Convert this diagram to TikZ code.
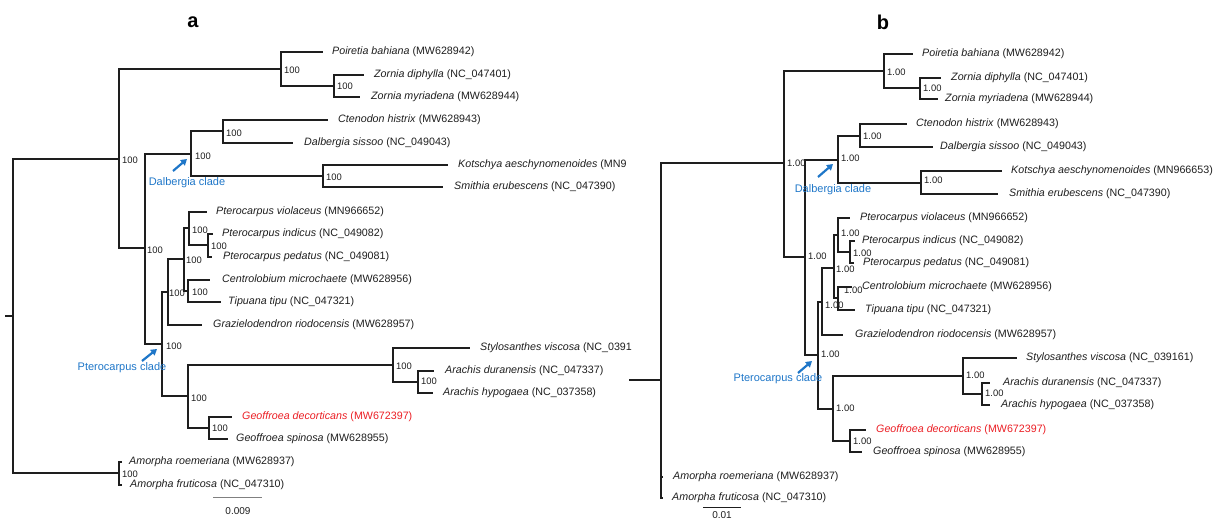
\documentclass[tikz,border=0pt]{standalone}
\usepackage{fontspec}
\setmainfont{Liberation Sans}
\usetikzlibrary{arrows.meta}
\definecolor{ink}{RGB}{30,30,30}
\definecolor{cladeblue}{RGB}{30,118,200}
\definecolor{redt}{RGB}{235,30,36}
\newcommand\tleaf[5]{\coordinate (#1) at (#2,#3); \node[tx] (#1t) at (#4,#3) {#5};}
\newcommand\ed[2]{\draw[br] (#1) |- (#2);}
\newcommand\bsl[4]{\node[bs] (#1l) at (#2,#3) {#4};}
\begin{document}
\begin{tikzpicture}[x=1pt,y=-1pt,
  br/.style={draw=ink,line width=1.3pt},
  tx/.style={anchor=west,inner sep=0pt,text=ink,font=\fontsize{10.7}{12}\selectfont},
  bs/.style={anchor=west,inner sep=0pt,text=ink,font=\fontsize{9.4}{10}\selectfont},
  cl/.style={draw=cladeblue,line width=2.2pt,-{Triangle[length=6pt,width=7pt]}},
  ct/.style={inner sep=0pt,text=cladeblue,font=\fontsize{11}{12}\selectfont},
  panel/.style={inner sep=0pt,text=black,font=\bfseries\fontsize{20}{22}\selectfont}]
\useasboundingbox (0,0) rectangle (1215,521);
% ---------------- panel a ----------------
\node[panel] (la) at (193,22) {a};
\coordinate (ra0) at (5,316); \coordinate (rA) at (13,316);
\coordinate (aA1) at (119,159);
\coordinate (aB1) at (281,69);
\coordinate (aB2) at (334,86);
\coordinate (aA2) at (145,248);
\coordinate (aD1) at (191,154);
\coordinate (aD2) at (223,131);
\coordinate (aD3) at (323,176);
\coordinate (aP1) at (162,344);
\coordinate (aP2) at (168,292);
\coordinate (aP3) at (184,259);
\coordinate (aP4) at (189,228);
\coordinate (aP5) at (208,245);
\coordinate (aP6) at (188,291);
\coordinate (aP7) at (188,396);
\coordinate (aP8) at (393,365);
\coordinate (aP9) at (418,382);
\coordinate (aP10) at (209,428);
\coordinate (aAm) at (119,473);
\tleaf{aPoi}{323}{52}{332}{\textit{Poiretia bahiana} (MW628942)}
\tleaf{aZd}{364}{75}{374}{\textit{Zornia diphylla} (NC\_047401)}
\tleaf{aZm}{360}{97}{371}{\textit{Zornia myriadena} (MW628944)}
\tleaf{aCt}{328}{120}{338}{\textit{Ctenodon histrix} (MW628943)}
\tleaf{aDs}{293}{143}{304}{\textit{Dalbergia sissoo} (NC\_049043)}
\tleaf{aKo}{448}{165}{458}{\textit{Kotschya aeschynomenoides} (MN9}
\tleaf{aSm}{443}{187}{454}{\textit{Smithia erubescens} (NC\_047390)}
\tleaf{aPv}{207}{212}{216}{\textit{Pterocarpus violaceus} (MN966652)}
\tleaf{aPi}{213}{234}{222}{\textit{Pterocarpus indicus} (NC\_049082)}
\tleaf{aPp}{212}{257}{223}{\textit{Pterocarpus pedatus} (NC\_049081)}
\tleaf{aCm}{210}{280}{222}{\textit{Centrolobium microchaete} (MW628956)}
\tleaf{aTt}{221}{302}{228}{\textit{Tipuana tipu} (NC\_047321)}
\tleaf{aGr}{202}{325}{213}{\textit{Grazielodendron riodocensis} (MW628957)}
\tleaf{aSv}{470}{348}{480}{\textit{Stylosanthes viscosa} (NC\_0391}
\tleaf{aAd}{434}{371}{445}{\textit{Arachis duranensis} (NC\_047337)}
\tleaf{aAh}{433}{393}{443}{\textit{Arachis hypogaea} (NC\_037358)}
\tleaf{aGd}{232}{417}{242}{\color{redt}\textit{Geoffroea decorticans} (MW672397)}
\tleaf{aGs}{228}{439}{236}{\textit{Geoffroea spinosa} (MW628955)}
\tleaf{aAr}{122}{462}{129}{\textit{Amorpha roemeriana} (MW628937)}
\tleaf{aAf}{122}{485}{130}{\textit{Amorpha fruticosa} (NC\_047310)}
\draw[br] (ra0) -- (rA);
\ed{rA}{aA1} \ed{rA}{aAm}
\ed{aA1}{aB1} \ed{aA1}{aA2}
\ed{aB1}{aPoi} \ed{aB1}{aB2}
\ed{aB2}{aZd} \ed{aB2}{aZm}
\ed{aA2}{aD1} \ed{aA2}{aP1}
\ed{aD1}{aD2} \ed{aD1}{aD3}
\ed{aD2}{aCt} \ed{aD2}{aDs}
\ed{aD3}{aKo} \ed{aD3}{aSm}
\ed{aP1}{aP2} \ed{aP1}{aP7}
\ed{aP2}{aP3} \ed{aP2}{aGr}
\ed{aP3}{aP4} \ed{aP3}{aP6}
\ed{aP4}{aPv} \ed{aP4}{aP5}
\ed{aP5}{aPi} \ed{aP5}{aPp}
\ed{aP6}{aCm} \ed{aP6}{aTt}
\ed{aP7}{aP8} \ed{aP7}{aP10}
\ed{aP8}{aSv} \ed{aP8}{aP9}
\ed{aP9}{aAd} \ed{aP9}{aAh}
\ed{aP10}{aGd} \ed{aP10}{aGs}
\ed{aAm}{aAr} \ed{aAm}{aAf}
\bsl{aA1}{122}{160}{100}
\bsl{aB1}{284}{70}{100}
\bsl{aB2}{337}{86}{100}
\bsl{aA2}{147}{250}{100}
\bsl{aD1}{195}{156}{100}
\bsl{aD2}{226}{133}{100}
\bsl{aD3}{326}{177}{100}
\bsl{aP1}{166}{346}{100}
\bsl{aP2}{169}{293}{100}
\bsl{aP3}{186}{260}{100}
\bsl{aP4}{192}{230}{100}
\bsl{aP5}{211}{246}{100}
\bsl{aP6}{192}{292}{100}
\bsl{aP7}{191}{398}{100}
\bsl{aP8}{396}{366}{100}
\bsl{aP9}{421}{381}{100}
\bsl{aP10}{212}{428}{100}
\bsl{aAm}{122}{474}{100}
\coordinate (daT) at (173,171); \coordinate (daH) at (187,159);
\draw[cl] (daT) -- (daH);
\node[ct] (daL) at (187,183) {Dalbergia clade};
\coordinate (paT) at (142,361); \coordinate (paH) at (157,349);
\draw[cl] (paT) -- (paH);
\node[ct] (paL) at (122,368) {Pterocarpus clade};
\coordinate (sa1) at (213,497); \coordinate (sa2) at (262,497);
\draw[gray,line width=0.8pt] (sa1) -- (sa2);
\node[bs,anchor=center,font=\fontsize{10}{11}\selectfont] (saL) at (238,511) {0.009};
% ---------------- panel b ----------------
\node[panel] (lb) at (883,22) {b};
\coordinate (rb0) at (629,380); \coordinate (rB) at (661,380);
\coordinate (bA1) at (784,163);
\coordinate (bB1) at (884,71);
\coordinate (bB2) at (920,88);
\coordinate (bA2) at (805,257);
\coordinate (bD1) at (838,160);
\coordinate (bD2) at (860,136);
\coordinate (bD3) at (921,183);
\coordinate (bP1) at (818,355);
\coordinate (bP2) at (822,302);
\coordinate (bP3) at (834,268);
\coordinate (bP4) at (838,235);
\coordinate (bP5) at (850,252);
\coordinate (bP6) at (838,298);
\coordinate (bP7) at (833,409);
\coordinate (bP8) at (963,376);
\coordinate (bP9) at (982,394);
\coordinate (bP10) at (850,441);
\coordinate (bAm) at (661,488);
\tleaf{bPoi}{913}{54}{922}{\textit{Poiretia bahiana} (MW628942)}
\tleaf{bZd}{941}{78}{951}{\textit{Zornia diphylla} (NC\_047401)}
\tleaf{bZm}{938}{99}{945}{\textit{Zornia myriadena} (MW628944)}
\tleaf{bCt}{907}{124}{916}{\textit{Ctenodon histrix} (MW628943)}
\tleaf{bDs}{933}{147}{940}{\textit{Dalbergia sissoo} (NC\_049043)}
\tleaf{bKo}{1002}{171}{1011}{\textit{Kotschya aeschynomenoides} (MN966653)}
\tleaf{bSm}{998}{194}{1009}{\textit{Smithia erubescens} (NC\_047390)}
\tleaf{bPv}{850}{218}{860}{\textit{Pterocarpus violaceus} (MN966652)}
\tleaf{bPi}{855}{241}{862}{\textit{Pterocarpus indicus} (NC\_049082)}
\tleaf{bPp}{854}{263}{863}{\textit{Pterocarpus pedatus} (NC\_049081)}
\tleaf{bCm}{852}{287}{862}{\textit{Centrolobium microchaete} (MW628956)}
\tleaf{bTt}{855}{310}{865}{\textit{Tipuana tipu} (NC\_047321)}
\tleaf{bGr}{843}{335}{855}{\textit{Grazielodendron riodocensis} (MW628957)}
\tleaf{bSv}{1017}{358}{1026}{\textit{Stylosanthes viscosa} (NC\_039161)}
\tleaf{bAd}{990}{383}{1003}{\textit{Arachis duranensis} (NC\_047337)}
\tleaf{bAh}{990}{405}{1001}{\textit{Arachis hypogaea} (NC\_037358)}
\tleaf{bGd}{866}{430}{876}{\color{redt}\textit{Geoffroea decorticans} (MW672397)}
\tleaf{bGs}{862}{452}{873}{\textit{Geoffroea spinosa} (MW628955)}
\tleaf{bAr}{663}{477}{673}{\textit{Amorpha roemeriana} (MW628937)}
\tleaf{bAf}{663}{498}{672}{\textit{Amorpha fruticosa} (NC\_047310)}
\draw[br] (rb0) -- (rB);
\ed{rB}{bA1} \ed{rB}{bAm}
\ed{bA1}{bB1} \ed{bA1}{bA2}
\ed{bB1}{bPoi} \ed{bB1}{bB2}
\ed{bB2}{bZd} \ed{bB2}{bZm}
\ed{bA2}{bD1} \ed{bA2}{bP1}
\ed{bD1}{bD2} \ed{bD1}{bD3}
\ed{bD2}{bCt} \ed{bD2}{bDs}
\ed{bD3}{bKo} \ed{bD3}{bSm}
\ed{bP1}{bP2} \ed{bP1}{bP7}
\ed{bP2}{bP3} \ed{bP2}{bGr}
\ed{bP3}{bP4} \ed{bP3}{bP6}
\ed{bP4}{bPv} \ed{bP4}{bP5}
\ed{bP5}{bPi} \ed{bP5}{bPp}
\ed{bP6}{bCm} \ed{bP6}{bTt}
\ed{bP7}{bP8} \ed{bP7}{bP10}
\ed{bP8}{bSv} \ed{bP8}{bP9}
\ed{bP9}{bAd} \ed{bP9}{bAh}
\ed{bP10}{bGd} \ed{bP10}{bGs}
\ed{bAm}{bAr} \ed{bAm}{bAf}
\bsl{bA1}{787}{163}{1.00}
\bsl{bB1}{887}{72}{1.00}
\bsl{bB2}{923}{88}{1.00}
\bsl{bA2}{808}{256}{1.00}
\bsl{bD1}{841}{158}{1.00}
\bsl{bD2}{863}{136}{1.00}
\bsl{bD3}{924}{180}{1.00}
\bsl{bP1}{821}{354}{1.00}
\bsl{bP2}{825}{305}{1.00}
\bsl{bP3}{836}{269}{1.00}
\bsl{bP4}{841}{233}{1.00}
\bsl{bP5}{853}{253}{1.00}
\bsl{bP6}{844}{290}{1.00}
\bsl{bP7}{836}{408}{1.00}
\bsl{bP8}{966}{375}{1.00}
\bsl{bP9}{985}{393}{1.00}
\bsl{bP10}{853}{441}{1.00}
\coordinate (dbT) at (818,177); \coordinate (dbH) at (833,164);
\draw[cl] (dbT) -- (dbH);
\node[ct] (dbL) at (833,190) {Dalbergia clade};
\coordinate (pbT) at (798,373); \coordinate (pbH) at (812,361);
\draw[cl] (pbT) -- (pbH);
\node[ct] (pbL) at (778,379) {Pterocarpus clade};
\coordinate (sb1) at (703,507); \coordinate (sb2) at (741,507);
\draw[ink,line width=1pt] (sb1) -- (sb2);
\node[bs,anchor=center,font=\fontsize{10}{11}\selectfont] (sbL) at (722,515) {0.01};
\end{tikzpicture}
\end{document}
